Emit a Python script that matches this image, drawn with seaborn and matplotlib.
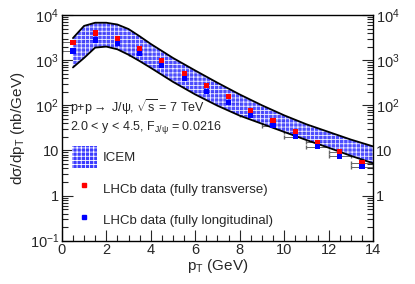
import matplotlib
matplotlib.use("Agg")
import matplotlib.pyplot as plt
import matplotlib.ticker as mticker
from matplotlib.patches import Patch
from matplotlib.lines import Line2D
import numpy as np
import pandas as pd
import seaborn as sns

# ICEM band (nb/GeV)
pt_band = [0.5, 1.0, 1.5, 2.0, 2.5, 3.0, 3.5, 4.0, 5.0, 6.0, 7.0, 8.0, 9.0, 10.0, 11.0, 12.0, 13.0, 14.0]
band_upper = [3090, 5750, 6760, 6760, 6170, 4900, 3390, 2290, 1120, 590, 316, 174, 100, 60, 38, 25.7, 17.4, 12.3]
band_lower = [690, 1120, 1900, 2000, 1740, 1320, 955, 676, 331, 174, 98, 59, 39, 25.7, 17.0, 11.5, 7.6, 5.2]

# LHCb data points
pt_data = [0.5, 1.5, 2.5, 3.5, 4.5, 5.5, 6.5, 7.5, 8.5, 9.5, 10.5, 11.5, 12.5, 13.5]
sigma_trans = [2500, 4000, 3000, 1800, 1000, 510, 280, 155, 78, 45, 26, 15, 9.3, 5.4]
sigma_long = [1600, 2800, 2350, 1400, 770, 400, 200, 115, 60, 35, 20, 12, 7.4, 4.4]
pt_halfwidth = 0.5

sns.set_style("ticks")
plt.rcParams["font.family"] = ["Liberation Sans", "DejaVu Sans"]
plt.rcParams["mathtext.fontset"] = "custom"
plt.rcParams["mathtext.rm"] = "Liberation Sans"
plt.rcParams["mathtext.it"] = "Liberation Sans"
plt.rcParams["hatch.linewidth"] = 0.6

fig = plt.figure(figsize=(4.15, 2.84), dpi=100)
ax = fig.add_axes([0.149, 0.1525, 0.750, 0.7945])

# data error bars (drawn under the band)
ax.errorbar(pt_data, sigma_trans, xerr=pt_halfwidth, fmt="none", ecolor="#666666",
            elinewidth=0.7, capsize=1.5, zorder=1)
ax.errorbar(pt_data, sigma_long, xerr=pt_halfwidth, fmt="none", ecolor="#666666",
            elinewidth=0.7, capsize=1.5, zorder=1)

# band
ax.fill_between(pt_band, band_lower, band_upper, facecolor="#3c3cff",
                edgecolor="white", hatch="++++", linewidth=0, alpha=0.9, zorder=2)
band_df = pd.DataFrame({"pt": pt_band, "upper": band_upper, "lower": band_lower})
sns.lineplot(data=band_df, x="pt", y="upper", color="black", lw=1.3, ax=ax, zorder=3)
sns.lineplot(data=band_df, x="pt", y="lower", color="black", lw=1.3, ax=ax, zorder=3)

data_df = pd.DataFrame({"pt": pt_data * 2,
                        "sigma": sigma_trans + sigma_long,
                        "pol": ["trans"] * len(pt_data) + ["long"] * len(pt_data)})
sns.scatterplot(data=data_df, x="pt", y="sigma", hue="pol",
                palette={"trans": "#ff0000", "long": "#0000ff"},
                marker="s", s=14, linewidth=0, legend=False, ax=ax, zorder=5)

ax.set_yscale("log")
ax.set_xlim(0, 14)
ax.set_ylim(0.1, 1e4)

def log_label(v, pos):
    if v == 1:
        return "1"
    if v == 10:
        return "10"
    return r"$\mathregular{10^{%d}}$" % int(round(np.log10(v)))

ax.yaxis.set_major_locator(mticker.FixedLocator([0.1, 1, 10, 100, 1e3, 1e4]))
ax.yaxis.set_major_formatter(mticker.FuncFormatter(log_label))
ax.yaxis.set_minor_locator(mticker.LogLocator(base=10, subs=np.arange(2, 10)))
ax.yaxis.set_minor_formatter(mticker.NullFormatter())
ax.xaxis.set_major_locator(mticker.MultipleLocator(2))
ax.xaxis.set_minor_locator(mticker.MultipleLocator(0.5))

ax.tick_params(which="both", direction="in", right=True, top=False, labelright=True,
               labelsize=10.5, width=0.8, pad=2)
ax.tick_params(which="major", length=8)
ax.tick_params(which="minor", length=4)
for s in ax.spines.values():
    s.set_linewidth(1.0)
    s.set_color("black")
# hide the 10^-1 label on the right side
ax.yaxis.get_major_ticks()[0].label2.set_visible(False)

ax.set_xlabel(r"p$_\mathregular{T}$ (GeV)", fontsize=11, labelpad=0)
ax.set_ylabel(r"d$\sigma$/dp$_\mathregular{T}$ (nb/GeV)", fontsize=11, labelpad=2)

ax.text(0.35, 91, r"p+p$\rightarrow$ J/$\psi$, $\sqrt{\mathregular{s}}$ = 7 TeV",
        fontsize=9, va="center")
ax.text(0.35, 33, r"2.0 < y < 4.5, F$_{\mathregular{J/\psi}}$ = 0.0216",
        fontsize=9, va="center")

handles = [
    Patch(facecolor="#3c3cff", edgecolor="white", hatch="++++", linewidth=0),
    Line2D([], [], ls="none", marker="s", color="#ff0000", markersize=3.5),
    Line2D([], [], ls="none", marker="s", color="#0000ff", markersize=3.5),
]
labels = ["ICEM", "LHCb data (fully transverse)", "LHCb data (fully longitudinal)"]
ax.legend(handles, labels, loc="upper left", bbox_to_anchor=(0.032, 0.42),
          frameon=False, fontsize=9.5, handlelength=1.9, handleheight=2.2,
          labelspacing=0.72, handletextpad=0.45, borderpad=0, borderaxespad=0)

fig.savefig("out.png", dpi=100)
